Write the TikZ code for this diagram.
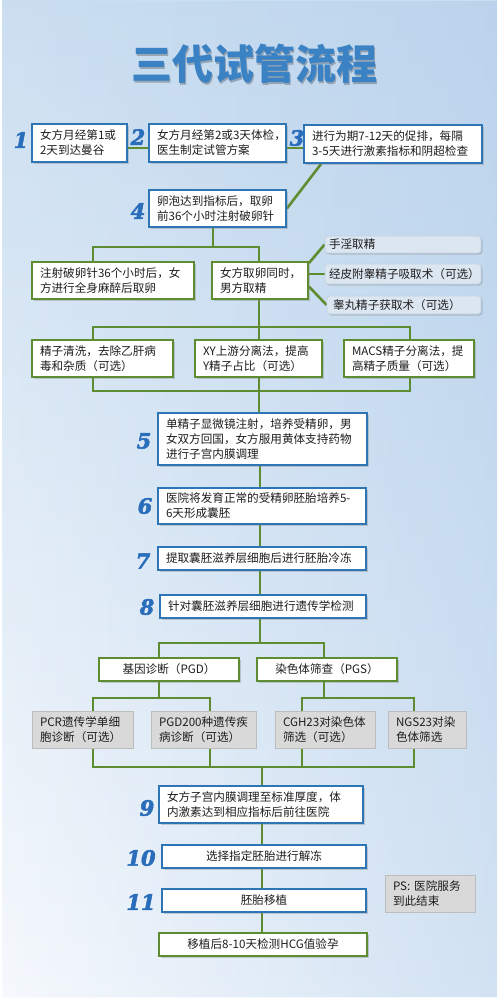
\documentclass[tikz,border=0pt]{standalone}
\usepackage{fontspec}
\setmainfont{Noto Sans CJK SC}
\newfontfamily\numfont[ItalicFeatures={FakeBold=2.5}, BoldItalicFeatures={FakeBold=2.5}]{DejaVu Serif}
\usetikzlibrary{shadows,fadings,calc}
\definecolor{bbord}{HTML}{2E75B6}
\definecolor{gbord}{HTML}{5E8C31}
\definecolor{numblue}{HTML}{2A6EBB}
\definecolor{titleblue}{HTML}{3B82C4}
\definecolor{fanfill}{HTML}{DCE6F1}
\definecolor{fanbord}{HTML}{C3D2E3}
\definecolor{grayfill}{HTML}{D9D9D9}
\definecolor{graybord}{HTML}{BDBDBD}
\definecolor{bgtop}{HTML}{CCDFF1}
\definecolor{bgmid}{HTML}{D8E7F5}
\definecolor{bgbot}{HTML}{F6F9FD}
\definecolor{bgright}{HTML}{A6C6E7}
\definecolor{txtcol}{HTML}{1E1E1E}
\pgfdeclarelayer{bg}
\pgfsetlayers{bg,main}
\newcommand\bxnode[8]{%
\pgfmathsetmacro\bxw{#5-#3}%
\pgfmathsetmacro\bxh{#6-#4}%
\pgfmathsetmacro\bxcx{(#3+#5)/2}%
\pgfmathsetmacro\bxcy{(#4+#6)/2}%
\pgfmathsetmacro\bxtw{#5-#3-2*#7}%
\node[#1, inner xsep=#7pt, minimum width=\bxw pt, minimum height=\bxh pt, text width=\bxtw pt] (#2) at (\bxcx,\bxcy) {#8};}
\begin{document}
\begin{tikzpicture}[x=1pt,y=-1pt,
  txt/.style={font=\fontsize{11.6}{15}\selectfont, text=txtcol, inner ysep=1pt, align=left},
  shad/.style={drop shadow={opacity=0.35, shadow xshift=1.5pt, shadow yshift=-1.5pt}},
  bluebox/.style={txt, draw=bbord, line width=1.8pt, fill=white, shad},
  greenbox/.style={txt, draw=gbord, line width=1.8pt, fill=white, shad},
  fanbox/.style={txt, draw=fanbord, line width=0.8pt, fill=fanfill, rounded corners=3pt, shad},
  graybox/.style={txt, draw=graybord, line width=0.8pt, fill=grayfill},
  ctr/.style={align=center},
  num/.style={font=\numfont\bfseries\itshape\fontsize{21}{21}\selectfont, text=numblue, inner sep=0pt},
  conn/.style={draw=gbord, line width=2.6pt}
]
\useasboundingbox (0,0) rectangle (500,1001);
% coordinates
\coordinate (L0) at (0,148);
\coordinate (L1) at (0,247);
\coordinate (L2) at (0,327);
\coordinate (L3) at (0,391);
\coordinate (L4) at (0,643);
\coordinate (L5) at (0,698);
\coordinate (L6) at (0,767);
\coordinate (X93) at (93,0);
\coordinate (X159) at (159,0);
\coordinate (X210) at (210,0);
\coordinate (X213) at (213,0);
\coordinate (X259) at (259,0);
\coordinate (X260) at (260,0);
\coordinate (X262) at (262,0);
\coordinate (X302) at (302,0);
\coordinate (X324) at (324,0);
\coordinate (X410) at (410,0);
\coordinate (X414) at (414,0);

% title
\node[font=\fontsize{41}{41}\selectfont\bfseries, text=black, opacity=0.25] (titleshadow) at (255.5,65.5) {三代试管流程};
\node[font=\fontsize{41}{41}\selectfont\bfseries, text=titleblue] (title) at (254,64) {三代试管流程};

% boxes
\bxnode{bluebox}{b1}{32}{124}{127}{162}{8}{女方月经第1或\\2天到达曼谷}
\bxnode{bluebox}{b2}{149}{124}{286}{162}{8}{女方月经第2或3天体检，\\医生制定试管方案}
\bxnode{bluebox}{b3}{304}{125}{482}{163}{8}{进行为期7-12天的促排，每隔\\3-5天进行激素指标和阴超检查}
\bxnode{bluebox}{b4}{149}{190}{286}{227}{8}{卵泡达到指标后，取卵\\前36个小时注射破卵针}
\bxnode{greenbox}{c1}{32}{262}{194}{299}{8}{注射破卵针36个小时后，女\\方进行全身麻醉后取卵}
\bxnode{greenbox}{c2}{212}{262}{308}{299}{8}{女方取卵同时，\\男方取精}
\bxnode{fanbox}{f1}{325}{236}{481}{253}{4}{手淫取精}
\bxnode{fanbox}{f2}{325}{264}{481}{284}{4}{经皮附睾精子吸取术（可选）}
\bxnode{fanbox}{f3}{327}{296}{481}{314}{6}{睾丸精子获取术（可选）}
\bxnode{greenbox}{d1}{32}{340}{173}{377}{8}{精子清洗，去除乙肝病\\毒和杂质（可选）}
\bxnode{greenbox}{d2}{195}{340}{322}{377}{8}{XY上游分离法，提高\\Y精子占比（可选）}
\bxnode{greenbox}{d3}{344}{340}{474}{377}{8}{MACS精子分离法，提\\高精子质量（可选）}
\bxnode{bluebox}{b5}{158}{413}{367}{465}{8}{单精子显微镜注射，培养受精卵，男\\女双方回国，女方服用黄体支持药物\\进行子宫内膜调理}
\bxnode{bluebox}{b6}{158}{488}{366}{524}{8}{医院将发育正常的受精卵胚胎培养5-\\6天形成囊胚}
\bxnode{bluebox}{b7}{158}{547}{366}{570}{8}{提取囊胚滋养层细胞后进行胚胎冷冻}
\bxnode{bluebox}{b8}{160}{595}{366}{618}{8}{针对囊胚滋养层细胞进行遗传学检测}
\bxnode{greenbox,ctr}{g1}{99}{658}{239}{681}{6}{基因诊断（PGD）}
\bxnode{greenbox,ctr}{g2}{257}{658}{397}{681}{6}{染色体筛查（PGS）}
\bxnode{graybox}{e1}{32}{711}{133}{748}{8}{PCR遗传学单细\\胞诊断（可选）}
\bxnode{graybox}{e2}{151}{711}{256}{748}{8}{PGD200种遗传疾\\病诊断（可选）}
\bxnode{graybox}{e3}{275}{711}{375}{748}{8}{CGH23对染色体\\筛选（可选）}
\bxnode{graybox}{e4}{388}{711}{466}{748}{8}{NGS23对染\\色体筛选}
\bxnode{bluebox}{b9}{159}{786}{363}{823}{8}{女方子宫内膜调理至标准厚度，体\\内激素达到相应指标后前往医院}
\bxnode{bluebox,ctr}{b10}{162}{845}{366}{868}{8}{选择指定胚胎进行解冻}
\bxnode{bluebox,ctr}{b11}{162}{889}{366}{912}{8}{胚胎移植}
\bxnode{greenbox,ctr}{b12}{159}{933}{367}{956}{8}{移植后8-10天检测HCG值验孕}
\bxnode{graybox}{ps}{385}{875}{475}{912}{8}{PS: 医院服务\\到此结束}

% step numbers
\node[num] (n1) at (21,140) {1};
\node[num] (n2) at (138,137) {2};
\node[num] (n3) at (297,138) {3};
\node[num] (n4) at (138,211) {4};
\node[num] (n5) at (144,441) {5};
\node[num] (n6) at (145,506) {6};
\node[num] (n7) at (143,561) {7};
\node[num] (n8) at (147,607) {8};
\node[num] (n9) at (147,808) {9};
\node[num] (n10) at (141,858) {10};
\node[num] (n11) at (141,902) {11};

\begin{pgfonlayer}{bg}
\fill[white] (0,0) rectangle (500,1001);
\shade[top color=bgtop, middle color=bgmid, bottom color=bgbot] (2,0) rectangle (497,997);
\fill[bgright, path fading=west, opacity=0.45] (2,0) rectangle (497,997);
% connectors
\draw[conn] (b1.east |- L0) -- (b2.west |- L0);
\draw[conn] (b2.east |- L0) -- (b3.west |- L0);
\draw[conn] ($(b3.south west)+(18,0)$) -- (b4.east);
\draw[conn] (b4.south -| X213) -- (X213 |- L1);
\draw[conn] (c1.north -| X93) -- (X93 |- L1) -- (X259 |- L1) -- (c2.north -| X259);
\draw[conn] ($(c2.north east)+(0,2)$) -- (f1.west);
\draw[conn] (c2.east |- f2.west) -- (f2.west);
\draw[conn] ($(c2.east)+(0,6)$) -- (f3.west);
\draw[conn] (c2.south -| X259) -- (X259 |- L2);
\draw[conn] (d1.north -| X93) -- (X93 |- L2) -- (X410 |- L2) -- (d3.north -| X410);
\draw[conn] (X259 |- L2) -- (d2.north -| X259);
\draw[conn] (d1.south -| X93) -- (X93 |- L3) -- (X410 |- L3) -- (d3.south -| X410);
\draw[conn] (d2.south -| X259) -- (b5.north -| X259);
\draw[conn] (b5.south -| X260) -- (b6.north -| X260);
\draw[conn] (b6.south -| X260) -- (b7.north -| X260);
\draw[conn] (b7.south -| X260) -- (b8.north -| X260);
\draw[conn] (b8.south -| X260) -- (X260 |- L4);
\draw[conn] (g1.north -| X159) -- (X159 |- L4) -- (X324 |- L4) -- (g2.north -| X324);
\draw[conn] (g1.south -| X159) -- (X159 |- L5);
\draw[conn] (e1.north -| X93) -- (X93 |- L5) -- (X210 |- L5) -- (e2.north -| X210);
\draw[conn] (g2.south -| X324) -- (X324 |- L5);
\draw[conn] (e3.north -| X302) -- (X302 |- L5) -- (X414 |- L5) -- (e4.north -| X414);
\draw[conn] (e1.south -| X93) -- (X93 |- L6) -- (X414 |- L6) -- (e4.south -| X414);
\draw[conn] (e2.south -| X210) -- (X210 |- L6);
\draw[conn] (e3.south -| X302) -- (X302 |- L6);
\draw[conn] (X262 |- L6) -- (b9.north -| X262);
\draw[conn] (b9.south -| X262) -- (b10.north -| X262);
\draw[conn] (b10.south -| X262) -- (b11.north -| X262);
\draw[conn] (b11.south -| X262) -- (b12.north -| X262);
\end{pgfonlayer}
\end{tikzpicture}
\end{document}
